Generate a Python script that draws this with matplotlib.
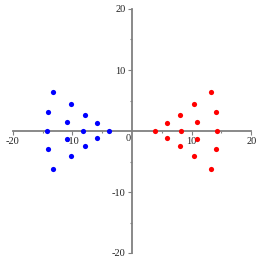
import matplotlib
matplotlib.use("Agg")
import matplotlib.pyplot as plt
import matplotlib.transforms as mtransforms

# point clouds
blue_x = [-13.2, -10.3, -14.0, -7.9, -10.9, -5.8, -14.25, -8.2, -3.8,
          -10.9, -5.8, -7.9, -14.0, -10.3, -13.2]
blue_y = [6.4, 4.35, 3.15, 2.7, 1.45, 1.3, 0, 0, 0,
          -1.3, -1.1, -2.5, -3.0, -4.15, -6.2]
red_x = [13.3, 10.4, 14.05, 8.0, 10.9, 5.8, 14.3, 8.25, 3.85,
         10.9, 5.8, 8.0, 14.05, 10.4, 13.3]
red_y = blue_y

ticks = [-20, -10, 10, 20]
tick_labels = ["-20", "-10", "10", "20"]

fig = plt.figure(figsize=(2.62, 2.62), dpi=100)
ax = fig.add_axes([12.7 / 262, 9.0 / 262, 238.6 / 262, 244.0 / 262])

ax.scatter(blue_x, blue_y, s=14, color="#0000ff", zorder=3, linewidths=0)
ax.scatter(red_x, red_y, s=14, color="#ff0000", zorder=3, linewidths=0)

ax.set_xlim(-20, 20)
ax.set_ylim(-20, 20)

# axes through the origin, Maple style
ax.spines['left'].set_position('zero')
ax.spines['bottom'].set_position('zero')
ax.spines['right'].set_color('none')
ax.spines['top'].set_color('none')
for s in ('left', 'bottom'):
    ax.spines[s].set_color('#808080')
    ax.spines[s].set_linewidth(1.3)

font = dict(family='Liberation Serif', size=7.5, color='#222222')
ax.set_xticks(ticks)
ax.set_xticklabels(tick_labels, **font)
ax.set_yticks(ticks)
ax.set_yticklabels(tick_labels, **font)
ax.set_xticks([-15, -5, 5, 15], minor=True)
ax.set_yticks([-15, -5, 5, 15], minor=True)
ax.tick_params(which='major', length=3, width=0.8, color='#808080', pad=1.5)
ax.tick_params(which='minor', length=1.5, width=0.8, color='#808080')

# origin label
ax.text(0, 0, "0", ha='right', va='top', **font,
        transform=ax.transData + mtransforms.ScaledTranslation(-1.5 / 100, -3 / 100, fig.dpi_scale_trans))

fig.savefig("out.png", dpi=100)
